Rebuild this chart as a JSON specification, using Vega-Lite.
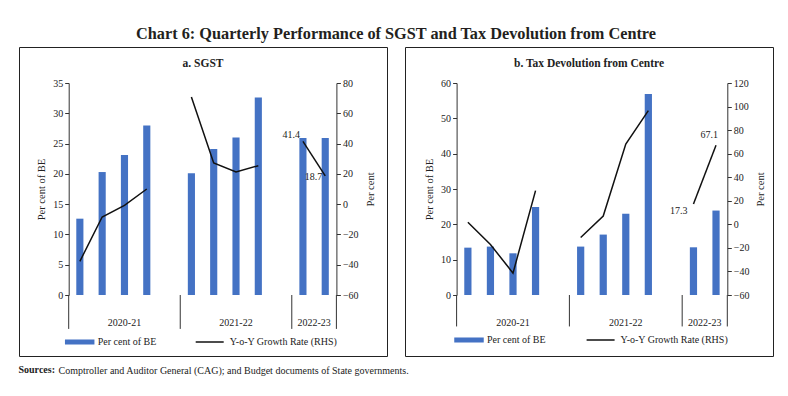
{
  "$schema": "https://vega.github.io/schema/vega-lite/v6.json",
  "padding": {"left": 18, "top": 26, "right": 5, "bottom": 5},
  "background": "white",
  "config": {
    "font": "Liberation Serif",
    "view": {"stroke": "#222", "strokeWidth": 1},
    "axis": {"grid": false, "labelFont": "Liberation Serif", "titleFont": "Liberation Serif", "labelFontSize": 10, "labelColor": "#222", "domainColor": "#333", "tickColor": "#333", "titleFontSize": 10.5, "titleFontWeight": "normal", "titleColor": "#222", "tickSize": 4, "labelPadding": 2},
    "legend": {"labelFont": "Liberation Serif", "labelFontSize": 10, "labelColor": "#222", "padding": 0},
    "text": {"font": "Liberation Serif", "fontSize": 10, "fill": "#222"},
    "title": {"font": "Liberation Serif"}
  },
  "datasets": {
    "sgst": [
      {"slot": "20Q1", "year": "2020-21", "pct": 12.6, "growth": -37.8},
      {"slot": "20Q2", "year": "2020-21", "pct": 20.3, "growth": -8.5},
      {"slot": "20Q3", "year": "2020-21", "pct": 23.1, "growth": -0.8},
      {"slot": "20Q4", "year": "2020-21", "pct": 28.0, "growth": 10.0},
      {"slot": "21Q1", "year": "2021-22", "pct": 20.1, "growth": 70.8},
      {"slot": "21Q2", "year": "2021-22", "pct": 24.1, "growth": 27.2},
      {"slot": "21Q3", "year": "2021-22", "pct": 26.0, "growth": 21.2},
      {"slot": "21Q4", "year": "2021-22", "pct": 32.6, "growth": 25.4},
      {"slot": "22Q1", "year": "2022-23", "pct": 25.9, "growth": 41.4},
      {"slot": "22Q2", "year": "2022-23", "pct": 25.9, "growth": 18.7}
    ],
    "tax": [
      {"slot": "20Q1", "year": "2020-21", "pct": 13.4, "growth": 1.8},
      {"slot": "20Q2", "year": "2020-21", "pct": 13.7, "growth": -17.1},
      {"slot": "20Q3", "year": "2020-21", "pct": 11.8, "growth": -41.4},
      {"slot": "20Q4", "year": "2020-21", "pct": 24.9, "growth": 28.6},
      {"slot": "21Q1", "year": "2021-22", "pct": 13.7, "growth": -11.2},
      {"slot": "21Q2", "year": "2021-22", "pct": 17.1, "growth": 7.1},
      {"slot": "21Q3", "year": "2021-22", "pct": 23.0, "growth": 68.1},
      {"slot": "21Q4", "year": "2021-22", "pct": 56.9, "growth": 96.6},
      {"slot": "22Q1", "year": "2022-23", "pct": 13.5, "growth": 17.3},
      {"slot": "22Q2", "year": "2022-23", "pct": 23.9, "growth": 67.1}
    ],
    "yearMid": [{"year": "2020-21", "slot": "20Q3"}, {"year": "2021-22", "slot": "21Q3"}],
    "yearEnd": [{"year": "2022-23", "slot": "22Q1"}],
    "sepStart": [{"slot": "20Q1"}, {"slot": "21Q1"}, {"slot": "22Q1"}],
    "sepEnd": [{"slot": "22Q2"}]
  },
  "title": {"text": "Chart 6: Quarterly Performance of SGST and Tax Devolution from Centre", "anchor": "middle", "fontSize": 16.3, "fontWeight": "bold", "color": "#231f20", "offset": 4},
  "vconcat": [
    {
      "title": {"text": "Comptroller and Auditor General (CAG); and Budget documents of State governments.", "orient": "bottom", "anchor": "start", "fontSize": 10, "fontWeight": "normal", "color": "#222", "dx": 40, "dy": -9, "offset": 0},
      "vconcat": [
        {
          "title": {"text": "Sources:", "orient": "bottom", "anchor": "start", "fontSize": 10, "fontWeight": "bold", "color": "#222", "offset": 8},
          "spacing": 16,
          "resolve": {"scale": {"fill": "independent", "stroke": "independent"}, "legend": {"fill": "independent", "stroke": "independent"}},
          "hconcat": [
            {
              "width": 368, "height": 309,
              "title": {"text": "a. SGST", "offset": -22, "fontSize": 11.5, "fontWeight": "bold", "color": "#222", "anchor": "middle"},
              "encoding": {
                "x": {"field": "slot", "type": "nominal", "scale": {"domain": ["20Q1","20Q2","20Q3","20Q4","20G","21Q1","21Q2","21Q3","21Q4","21G","22Q1","22Q2"], "range": [49.7, 317.4], "paddingInner": 0, "paddingOuter": 0},
                  "axis": {"orient": "bottom", "offset": -61, "title": null, "labelExpr": "indexof(datum.value,'G')>=0 ? '' : substring(datum.value,2)", "tickBand": "extent", "labelAngle": 0, "domain": true, "ticks": true, "labels": true, "zindex": 1}}
              },
              "layer": [
                {
                  "data": {"name": "sgst"},
                  "mark": {"type": "bar", "width": {"band": 0.32}},
                  "encoding": {
                    "y": {"field": "pct", "type": "quantitative", "scale": {"domain": [0, 35], "range": [248, 36], "nice": false},
                      "axis": {"orient": "left", "offset": -49.7, "values": [0,5,10,15,20,25,30,35], "title": "Per cent of BE", "titlePadding": 6}},
                    "fill": {"datum": "Per cent of BE", "type": "nominal", "scale": {"range": ["#4472C4"]},
                      "legend": {"title": null, "orient": "none", "legendX": 45.7, "legendY": 280, "symbolType": "M-1,-0.17H1V0.17H-1Z", "symbolSize": 870, "symbolStrokeWidth": 0, "symbolOpacity": 1, "labelOffset": 3}}
                  }
                },
                {
                  "data": {"name": "yearMid"},
                  "mark": {"type": "text", "baseline": "middle", "align": "center", "font": "Liberation Serif"},
                  "encoding": {
                    "x": {"field": "slot", "type": "nominal", "bandPosition": 0.5, "axis": null},
                    "y": {"datum": -4.6, "type": "quantitative", "scale": {"domain": [0, 35], "range": [248, 36], "nice": false}, "axis": null},
                    "text": {"field": "year"}
                  }
                },
                {
                  "data": {"name": "yearEnd"},
                  "mark": {"type": "text", "baseline": "middle", "align": "center", "font": "Liberation Serif"},
                  "encoding": {
                    "x": {"field": "slot", "type": "nominal", "bandPosition": 1, "axis": null},
                    "y": {"datum": -4.6, "type": "quantitative", "scale": {"domain": [0, 35], "range": [248, 36], "nice": false}, "axis": null},
                    "text": {"field": "year"}
                  }
                },
                {
                  "data": {"name": "sepStart"},
                  "mark": {"type": "rule", "color": "#333", "strokeWidth": 1},
                  "encoding": {
                    "x": {"field": "slot", "type": "nominal", "bandPosition": 0, "axis": null},
                    "y": {"datum": 0, "type": "quantitative", "scale": {"domain": [0, 35], "range": [248, 36], "nice": false}, "axis": null},
                    "y2": {"datum": -5.6}
                  }
                },
                {
                  "data": {"name": "sepEnd"},
                  "mark": {"type": "rule", "color": "#333", "strokeWidth": 1},
                  "encoding": {
                    "x": {"field": "slot", "type": "nominal", "bandPosition": 1, "axis": null},
                    "y": {"datum": 0, "type": "quantitative", "scale": {"domain": [0, 35], "range": [248, 36], "nice": false}, "axis": null},
                    "y2": {"datum": -5.6}
                  }
                },
                {
                  "data": {"name": "sgst"},
                  "mark": {"type": "line", "strokeWidth": 1.5},
                  "encoding": {
                    "y": {"field": "growth", "type": "quantitative", "scale": {"domain": [-60, 80], "range": [248, 36], "nice": false},
                      "axis": {"orient": "right", "offset": -50.6, "values": [-60,-40,-20,0,20,40,60,80], "title": "Per cent", "titleAngle": 270, "titleBaseline": "top", "titlePadding": 7}},
                    "detail": {"field": "year"},
                    "stroke": {"datum": "Y-o-Y Growth Rate (RHS)", "type": "nominal", "scale": {"range": ["#111"]},
                      "legend": {"title": null, "orient": "none", "legendX": 175.7, "legendY": 280, "symbolType": "stroke", "symbolSize": 784, "symbolStrokeWidth": 1.5, "labelOffset": 5}}
                  }
                },
                {
                  "data": {"name": "sgst"},
                  "transform": [{"filter": "datum.slot == '22Q1'"}],
                  "mark": {"type": "text", "align": "right", "baseline": "middle", "dx": -3, "dy": -6, "font": "Liberation Serif"},
                  "encoding": {
                    "y": {"field": "growth", "type": "quantitative", "scale": {"domain": [-60, 80], "range": [248, 36], "nice": false}, "axis": null},
                    "text": {"field": "growth", "format": ".1f"}
                  }
                },
                {
                  "data": {"name": "sgst"},
                  "transform": [{"filter": "datum.slot == '22Q2'"}],
                  "mark": {"type": "text", "align": "right", "baseline": "middle", "dx": -3, "dy": 1, "font": "Liberation Serif"},
                  "encoding": {
                    "y": {"field": "growth", "type": "quantitative", "scale": {"domain": [-60, 80], "range": [248, 36], "nice": false}, "axis": null},
                    "text": {"field": "growth", "format": ".1f"}
                  }
                }
              ],
              "resolve": {"scale": {"y": "independent"}}
            },
            {
              "width": 368, "height": 309,
              "title": {"text": "b. Tax Devolution from Centre", "offset": -22, "fontSize": 11.5, "fontWeight": "bold", "color": "#222", "anchor": "middle"},
              "layer": [
                {
                  "data": {"name": "tax"},
                  "mark": {"type": "bar", "width": {"band": 0.32}},
                  "encoding": {
                    "x": {"field": "slot", "type": "nominal", "scale": {"domain": ["20Q1","20Q2","20Q3","20Q4","20G","21Q1","21Q2","21Q3","21Q4","21G","22Q1","22Q2"], "range": [51.6, 322.3], "paddingInner": 0, "paddingOuter": 0},
                      "axis": {"orient": "bottom", "title": null, "labelAngle": 0}},
                    "y": {"field": "pct", "type": "quantitative", "scale": {"domain": [0, 60], "range": [248, 36], "nice": false},
                      "axis": {"orient": "left", "offset": -51.6, "values": [0,10,20,30,40,50,60], "title": "Per cent of BE", "titlePadding": 6}},
                    "fill": {"datum": "Per cent of BE", "type": "nominal", "scale": {"range": ["#4472C4"]},
                      "legend": {"title": null, "orient": "none", "legendX": 49, "legendY": 278, "symbolType": "M-1,-0.17H1V0.17H-1Z", "symbolSize": 870, "symbolStrokeWidth": 0, "symbolOpacity": 1, "labelOffset": 3}}
                  }
                },
                {
                  "data": {"name": "yearMid"},
                  "mark": {"type": "text", "baseline": "middle", "align": "center", "font": "Liberation Serif"},
                  "encoding": {
                    "x": {"field": "slot", "type": "nominal", "bandPosition": 0.5, "axis": null},
                    "y": {"datum": -7.9, "type": "quantitative", "scale": {"domain": [0, 60], "range": [248, 36], "nice": false}, "axis": null},
                    "text": {"field": "year"}
                  }
                },
                {
                  "data": {"name": "yearEnd"},
                  "mark": {"type": "text", "baseline": "middle", "align": "center", "font": "Liberation Serif"},
                  "encoding": {
                    "x": {"field": "slot", "type": "nominal", "bandPosition": 1, "axis": null},
                    "y": {"datum": -7.9, "type": "quantitative", "scale": {"domain": [0, 60], "range": [248, 36], "nice": false}, "axis": null},
                    "text": {"field": "year"}
                  }
                },
                {
                  "data": {"name": "sepStart"},
                  "mark": {"type": "rule", "color": "#333", "strokeWidth": 1},
                  "encoding": {
                    "x": {"field": "slot", "type": "nominal", "bandPosition": 0, "axis": null},
                    "y": {"datum": 0, "type": "quantitative", "scale": {"domain": [0, 60], "range": [248, 36], "nice": false}, "axis": null},
                    "y2": {"datum": -8.9}
                  }
                },
                {
                  "data": {"name": "sepEnd"},
                  "mark": {"type": "rule", "color": "#333", "strokeWidth": 1},
                  "encoding": {
                    "x": {"field": "slot", "type": "nominal", "bandPosition": 1, "axis": null},
                    "y": {"datum": 0, "type": "quantitative", "scale": {"domain": [0, 60], "range": [248, 36], "nice": false}, "axis": null},
                    "y2": {"datum": -8.9}
                  }
                },
                {
                  "data": {"name": "tax"},
                  "mark": {"type": "line", "strokeWidth": 1.5},
                  "encoding": {
                    "x": {"field": "slot", "type": "nominal", "axis": null},
                    "y": {"field": "growth", "type": "quantitative", "scale": {"domain": [-60, 120], "range": [248, 36], "nice": false},
                      "axis": {"orient": "right", "offset": -45.7, "values": [-60,-40,-20,0,20,40,60,80,100,120], "title": "Per cent", "titleAngle": 270, "titleBaseline": "top", "titlePadding": 7}},
                    "detail": {"field": "year"},
                    "stroke": {"datum": "Y-o-Y Growth Rate (RHS)", "type": "nominal", "scale": {"range": ["#111"]},
                      "legend": {"title": null, "orient": "none", "legendX": 180.6, "legendY": 278, "symbolType": "stroke", "symbolSize": 784, "symbolStrokeWidth": 1.5, "labelOffset": 5}}
                  }
                },
                {
                  "data": {"name": "tax"},
                  "transform": [{"filter": "datum.slot == '22Q1'"}],
                  "mark": {"type": "text", "align": "right", "baseline": "middle", "dx": -6, "dy": 7, "font": "Liberation Serif"},
                  "encoding": {
                    "x": {"field": "slot", "type": "nominal", "axis": null},
                    "y": {"field": "growth", "type": "quantitative", "scale": {"domain": [-60, 120], "range": [248, 36], "nice": false}, "axis": null},
                    "text": {"field": "growth", "format": ".1f"}
                  }
                },
                {
                  "data": {"name": "tax"},
                  "transform": [{"filter": "datum.slot == '22Q2'"}],
                  "mark": {"type": "text", "align": "right", "baseline": "middle", "dx": 2, "dy": -10, "font": "Liberation Serif"},
                  "encoding": {
                    "x": {"field": "slot", "type": "nominal", "axis": null},
                    "y": {"field": "growth", "type": "quantitative", "scale": {"domain": [-60, 120], "range": [248, 36], "nice": false}, "axis": null},
                    "text": {"field": "growth", "format": ".1f"}
                  }
                }
              ],
              "resolve": {"scale": {"y": "independent"}}
            }
          ]
        }
      ]
    }
  ]
}
